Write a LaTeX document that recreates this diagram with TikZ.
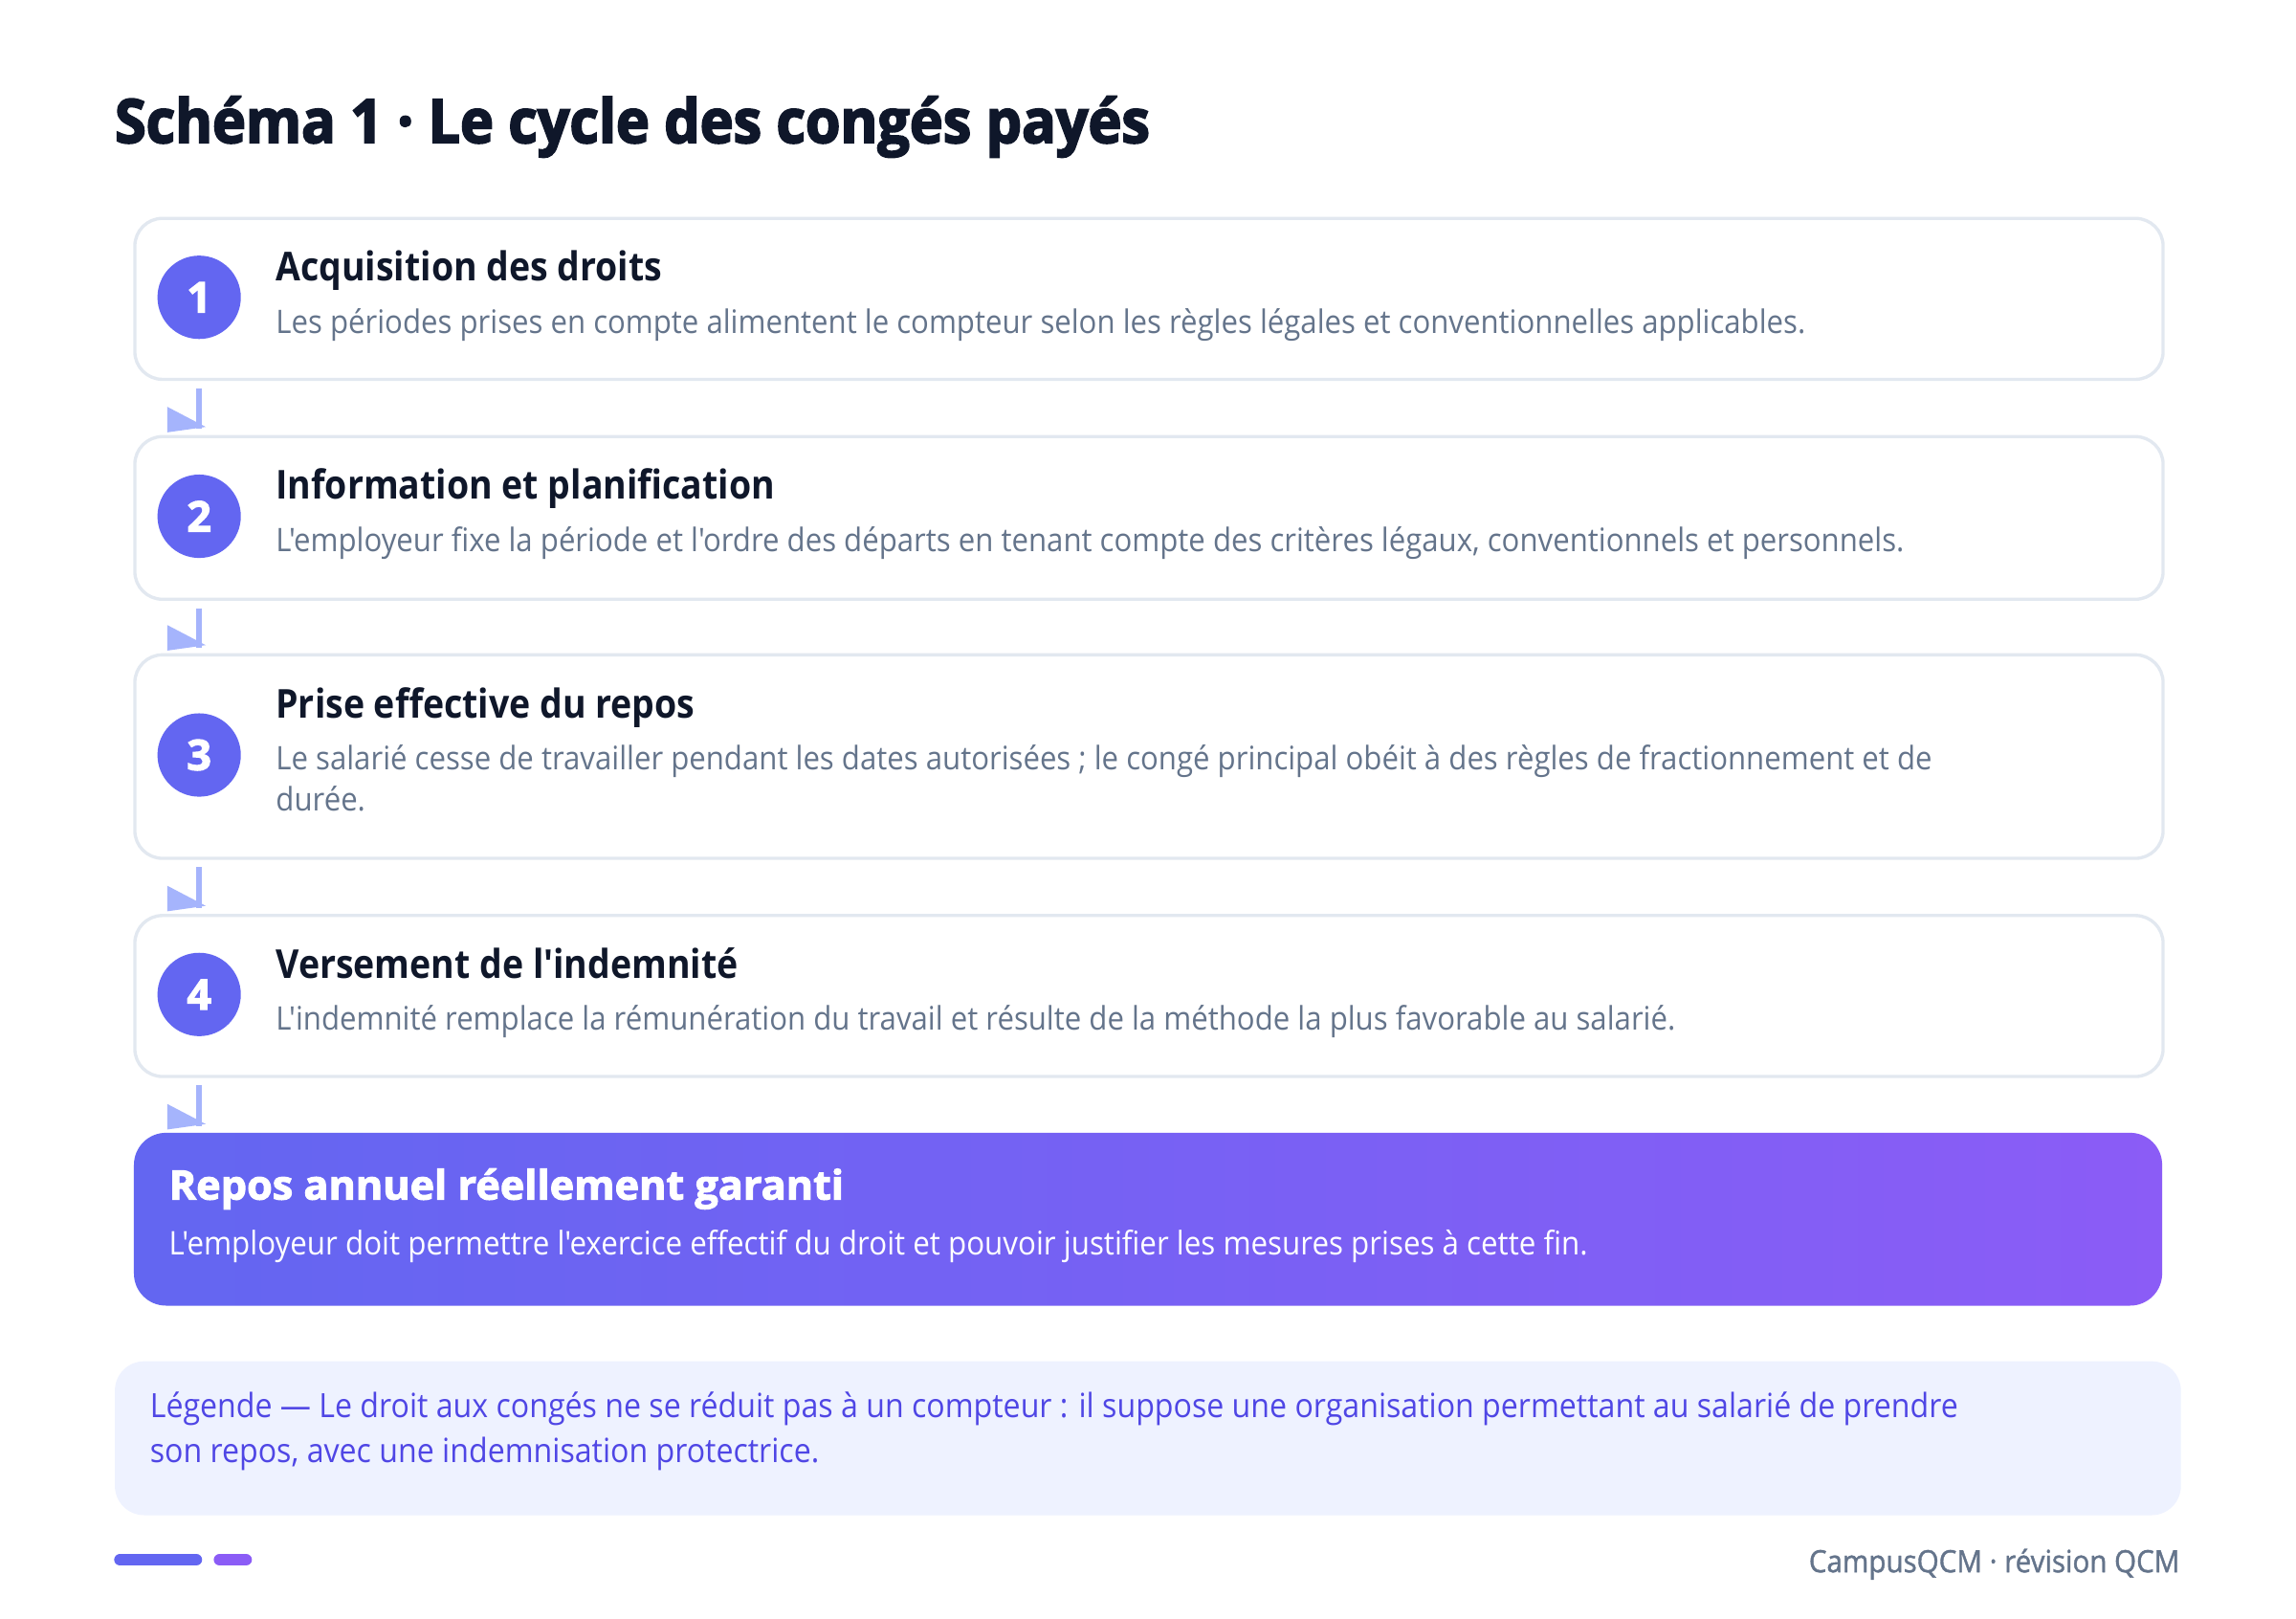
\documentclass[tikz,border=0pt]{standalone}
\usepackage{fontspec}
\setmainfont{Open Sans}[FakeStretch=0.92,Ligatures=TeXOff]
\newfontfamily\headfont{Open Sans}[FakeStretch=0.9,Ligatures=TeXOff]
\newfontfamily\titlefont{Open Sans}[FakeStretch=0.932,FakeBold=3,Ligatures=TeXOff]
\newfontfamily\heavyfont{Open Sans}[FakeStretch=1.02,FakeBold=2.5,Ligatures=TeXOff]
\newfontfamily\semifont{Open Sans}[FakeStretch=0.92,FakeBold=1.2,Ligatures=TeXOff]
\usetikzlibrary{calc}
\definecolor{ink}{HTML}{0F172A}
\definecolor{slate}{HTML}{64748B}
\definecolor{cardline}{HTML}{E2E8F0}
\definecolor{indigo}{HTML}{6366F1}
\definecolor{violet}{HTML}{8B5CF6}
\definecolor{arrowc}{HTML}{A5B4FC}
\definecolor{legendfill}{HTML}{EEF2FF}
\definecolor{legendtext}{HTML}{4F46E5}
\begin{document}
\begin{tikzpicture}[x=0.4339pt,y=-0.4339pt,
  card/.style={draw=cardline, line width=0.95pt, fill=white, rounded corners=8.2pt,
    minimum width=601pt, anchor=north west, inner sep=0pt},
  badge/.style={circle, fill=indigo, minimum size=24.7pt, inner sep=0pt, text=white,
    font=\heavyfont\bfseries\fontsize{12.5}{14}\selectfont},
  steptitle/.style={anchor=base west, inner sep=0pt, text=ink,
    font=\headfont\bfseries\fontsize{11.8}{14}\selectfont},
  stepdesc/.style={anchor=base west, inner sep=0pt, text=slate, align=left,
    font=\fontsize{9.6}{12.3}\selectfont},
  conn/.style={draw=arrowc, line width=1.6pt},
  tipfill/.style={fill=arrowc}
]
\useasboundingbox[fill=white] (0,0) rectangle (1568,1105.4);

% title
\node[anchor=base west, inner sep=0pt, text=ink,
  font=\titlefont\bfseries\fontsize{18}{22}\selectfont] (title) at (78,97.5)
  {Schéma 1 · Le cycle des congés payés};

% cards
\node[card, minimum height=47.7pt] (c1) at (91,148) {};
\node[card, minimum height=48.2pt] (c2) at (91,297) {};
\node[card, minimum height=60.3pt] (c3) at (91,446) {};
\node[card, minimum height=47.7pt] (c4) at (91,624) {};

\node[badge] (b1) at (136,203) {1};
\node[badge] (b2) at (136,352.5) {2};
\node[badge] (b3) at (136,515.5) {3};
\node[badge] (b4) at (136,679) {4};

\node[steptitle] (t1) at (188,192) {Acquisition des droits};
\node[stepdesc] (d1) at (188,227.5) {Les périodes prises en compte alimentent le compteur selon les règles légales et conventionnelles applicables.};
\node[steptitle] (t2) at (188,341) {Information et planification};
\node[stepdesc] (d2) at (188,376.5) {L'employeur fixe la période et l'ordre des départs en tenant compte des critères légaux, conventionnels et personnels.};
\node[steptitle] (t3) at (188,490) {Prise effective du repos};
\node[stepdesc] (d3) at (188,554) {Le salarié cesse de travailler pendant les dates autorisées ; le congé principal obéit à des règles de fractionnement et de\\durée.};
\node[steptitle] (t4) at (188,668) {Versement de l'indemnité};
\node[stepdesc] (d4) at (188,703.5) {L'indemnité remplace la rémunération du travail et résulte de la méthode la plus favorable au salarié.};

% final box
\node[anchor=north west, inner sep=0pt, minimum width=601pt, minimum height=51.2pt,
  rounded corners=9.5pt, left color=indigo, right color=violet] (fin) at (91,773) {};
\node[anchor=base west, inner sep=0pt, text=white,
  font=\heavyfont\bfseries\fontsize{12}{15}\selectfont] (fint) at (115,819)
  {Repos annuel réellement garanti};
\node[anchor=base west, inner sep=0pt, text=white,
  font=\fontsize{9.65}{12}\selectfont] (find) at (115,857)
  {L'employeur doit permettre l'exercice effectif du droit et pouvoir justifier les mesures prises à cette fin.};

% connectors
\foreach \a/\b in {c1/c2, c2/c3, c3/c4, c4/fin}{
  \coordinate (s-\a) at ($(\a.south west)+(44.7,5)$);
  \coordinate (e-\a) at ($(\b.north west)+(44.7,-4)$);
  \draw[conn] (s-\a) -- (e-\a);
  \fill[tipfill] (e-\a) ++(-21.4,-15.2) -- ++(0,17.4) -- ++(26.2,-3.7) -- cycle;
}

% legend
\node[anchor=north west, inner sep=0pt, minimum width=612.2pt, minimum height=45.6pt,
  rounded corners=8.7pt, fill=legendfill] (leg) at (78,929) {};
\node[anchor=base west, inner sep=0pt, text=legendtext, align=left,
  font=\fontsize{9.9}{13.2}\selectfont] (legt) at (102,998.5)
  {Légende — Le droit aux congés ne se réduit pas à un compteur : il suppose une organisation permettant au salarié de prendre\\son repos, avec une indemnisation protectrice.};

% footer
\draw[indigo, line width=3.5pt, line cap=round] (82,1065) -- (134,1065);
\draw[violet, line width=3.5pt, line cap=round] (150,1065) -- (168,1065);
\node[anchor=base east, inner sep=0pt, text=slate,
  font=\semifont\fontsize{9.1}{12}\selectfont] (foot) at (1489,1073.5)
  {CampusQCM · révision QCM};
\end{tikzpicture}
\end{document}
